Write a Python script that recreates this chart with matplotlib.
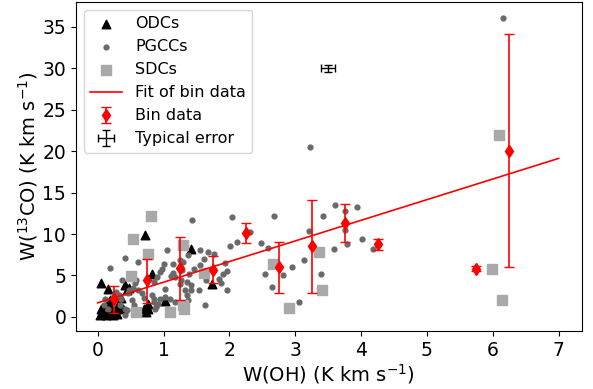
import numpy as np
import matplotlib
matplotlib.use('Agg')
import matplotlib.pyplot as plt

# ODCs (triangles)
odc_x = [0.72, 0.83, 1.41, 1.74, 1.02, 0.76, 0.71, 0.77, 0.05, 0.16, 0.41, 0.48, 0.45,
         0.05, 0.12, 0.23, 0.29, 0.39, 0.19, 0.08, 0.17, 0.30, 0.14, 0.21, 0.35, 0.03, 0.73]
odc_y = [9.9, 5.2, 8.2, 4.0, 1.9, 0.9, 1.0, 1.6, 4.1, 3.4, 3.8, 3.5, 3.2,
         0.9, 0.2, 0.2, 1.2, 1.0, 2.0, 0.5, 0.6, 0.4, 1.5, 1.1, 2.3, 0.2, 0.6]

# PGCCs (dots)
pgcc_x = [0.42, 0.61, 0.19, 1.05, 0.94, 0.97, 0.90, 0.86, 1.11, 1.15, 0.57, 0.37, 0.62,
          0.67, 0.54, 0.46, 0.33, 0.11, 0.09, 0.36, 0.52, 0.42, 0.42, 0.87, 0.92, 0.95,
          0.85, 1.02, 1.18, 1.01, 0.86, 0.89, 0.83, 1.17, 1.27, 1.02, 0.59, 0.48, 0.34,
          0.44, 1.10, 1.15, 1.25, 1.28, 1.32, 1.36, 1.37, 1.25, 0.25, 0.15, 0.62, 0.55,
          0.70, 0.28,
          1.44, 2.04, 2.68, 2.32, 2.11, 2.01, 2.48, 2.59, 1.37, 1.56, 1.68, 1.77, 1.62,
          1.56, 1.47, 1.39, 1.30, 1.93, 1.90, 1.96, 1.84, 1.87, 1.65, 1.36, 1.42, 1.41,
          1.54, 1.97, 2.54, 2.64, 2.81, 1.63,
          2.95, 3.13, 3.21, 3.39, 3.06, 3.42, 3.60, 3.76, 3.94, 3.76, 3.78, 3.59, 4.01,
          4.18, 3.22, 6.16]
pgcc_y = [7.16, 6.64, 5.91, 8.05, 5.43, 5.84, 4.83, 4.22, 4.91, 5.31, 4.10, 4.43, 3.22,
          2.90, 3.55, 2.90, 2.62, 2.22, 1.41, 2.22, 2.01, 1.01, 0.20, 1.01, 1.62, 2.22,
          2.22, 2.41, 1.81, 6.44, 1.81, 1.20, 2.70, 4.83, 4.43, 3.43, 4.51, 3.30, 1.41,
          0.81, 2.22, 6.44, 6.84, 5.63, 3.22, 2.70, 2.01, 4.03, 2.60, 1.00, 0.80, 1.50,
          2.30, 3.00,
          11.7, 12.03, 12.23, 10.25, 9.1, 8.56, 8.93, 8.29, 7.53, 8.05, 7.84, 7.65, 7.04,
          6.24, 5.84, 5.23, 6.63, 6.51, 5.23, 5.51, 4.63, 4.15, 4.51, 4.22, 3.82, 3.22,
          3.22, 3.22, 5.23, 3.62, 5.03, 1.41,
          6.08, 6.88, 10.34, 5.23, 1.81, 12.23, 13.47, 12.83, 13.27, 10.46, 8.85, 8.17, 9.46,
          8.17, 20.55, 36.1]

# SDCs (squares)
sdc_x = [0.81, 0.53, 0.77, 0.50, 0.58, 1.10, 1.31, 1.30, 1.29, 1.62, 2.66, 3.36, 3.41,
         2.90, 6.09, 5.99, 6.14]
sdc_y = [12.15, 9.46, 7.6, 4.9, 0.57, 0.57, 1.0, 1.5, 8.65, 5.36, 6.44, 7.8, 3.3,
         1.09, 22.0, 5.8, 2.0]

# binned data
bin_x = [0.25, 0.75, 1.25, 1.75, 2.25, 2.75, 3.25, 3.75, 4.25, 5.75, 6.25]
bin_y = [2.2, 4.43, 5.9, 5.7, 10.13, 6.03, 8.53, 11.34, 8.77, 5.79, 20.0]
bin_lo = [0.53, 1.74, 2.05, 4.15, 8.9, 2.94, 2.94, 9.05, 8.13, 5.5, 6.0]
bin_hi = [3.74, 7.0, 9.65, 7.3, 11.34, 9.1, 14.08, 13.63, 9.41, 6.1, 34.1]

# fit of bin data
fit_slope = 2.49
fit_intercept = 1.7

# typical error
typ_x, typ_y = 3.5, 30.0
typ_xerr, typ_yerr = 0.11, 0.4

fig = plt.figure(figsize=(5.93, 3.89), dpi=100)
ax = fig.add_axes([0.128, 0.149, 0.853, 0.846])

ax.scatter(odc_x, odc_y, marker='^', s=38, color='black', label='ODCs')
ax.scatter(pgcc_x, pgcc_y, marker='o', s=12, color='dimgray', label='PGCCs')
ax.scatter(sdc_x, sdc_y, marker='s', s=45, color='darkgray', label='SDCs')

xf = np.linspace(0, 7, 50)
ax.plot(xf, fit_slope * xf + fit_intercept, color='red', lw=1.2, label='Fit of bin data')

bin_y = np.array(bin_y)
yerr = [bin_y - np.array(bin_lo), np.array(bin_hi) - bin_y]
ax.errorbar(bin_x, bin_y, yerr=yerr, fmt='d', color='red', markersize=6,
            capsize=3.5, elinewidth=1.2, label='Bin data')
ax.errorbar([typ_x], [typ_y], xerr=typ_xerr, yerr=typ_yerr, fmt='none',
            ecolor='black', capsize=3, elinewidth=1, label='Typical error')

ax.set_xlim(-0.33, 7.35)
ax.set_ylim(-1.7, 38)
ax.set_xticks(range(0, 8))
ax.set_yticks(range(0, 36, 5))
ax.tick_params(labelsize=13.5)
ax.set_xlabel('W(OH) (K km s$^{-1}$)', fontsize=14, labelpad=2)
ax.set_ylabel('W($^{13}$CO) (K km s$^{-1}$)', fontsize=14, labelpad=2)
ax.legend(loc='upper left', fontsize=11.5)

fig.savefig('out.png', dpi=100)
